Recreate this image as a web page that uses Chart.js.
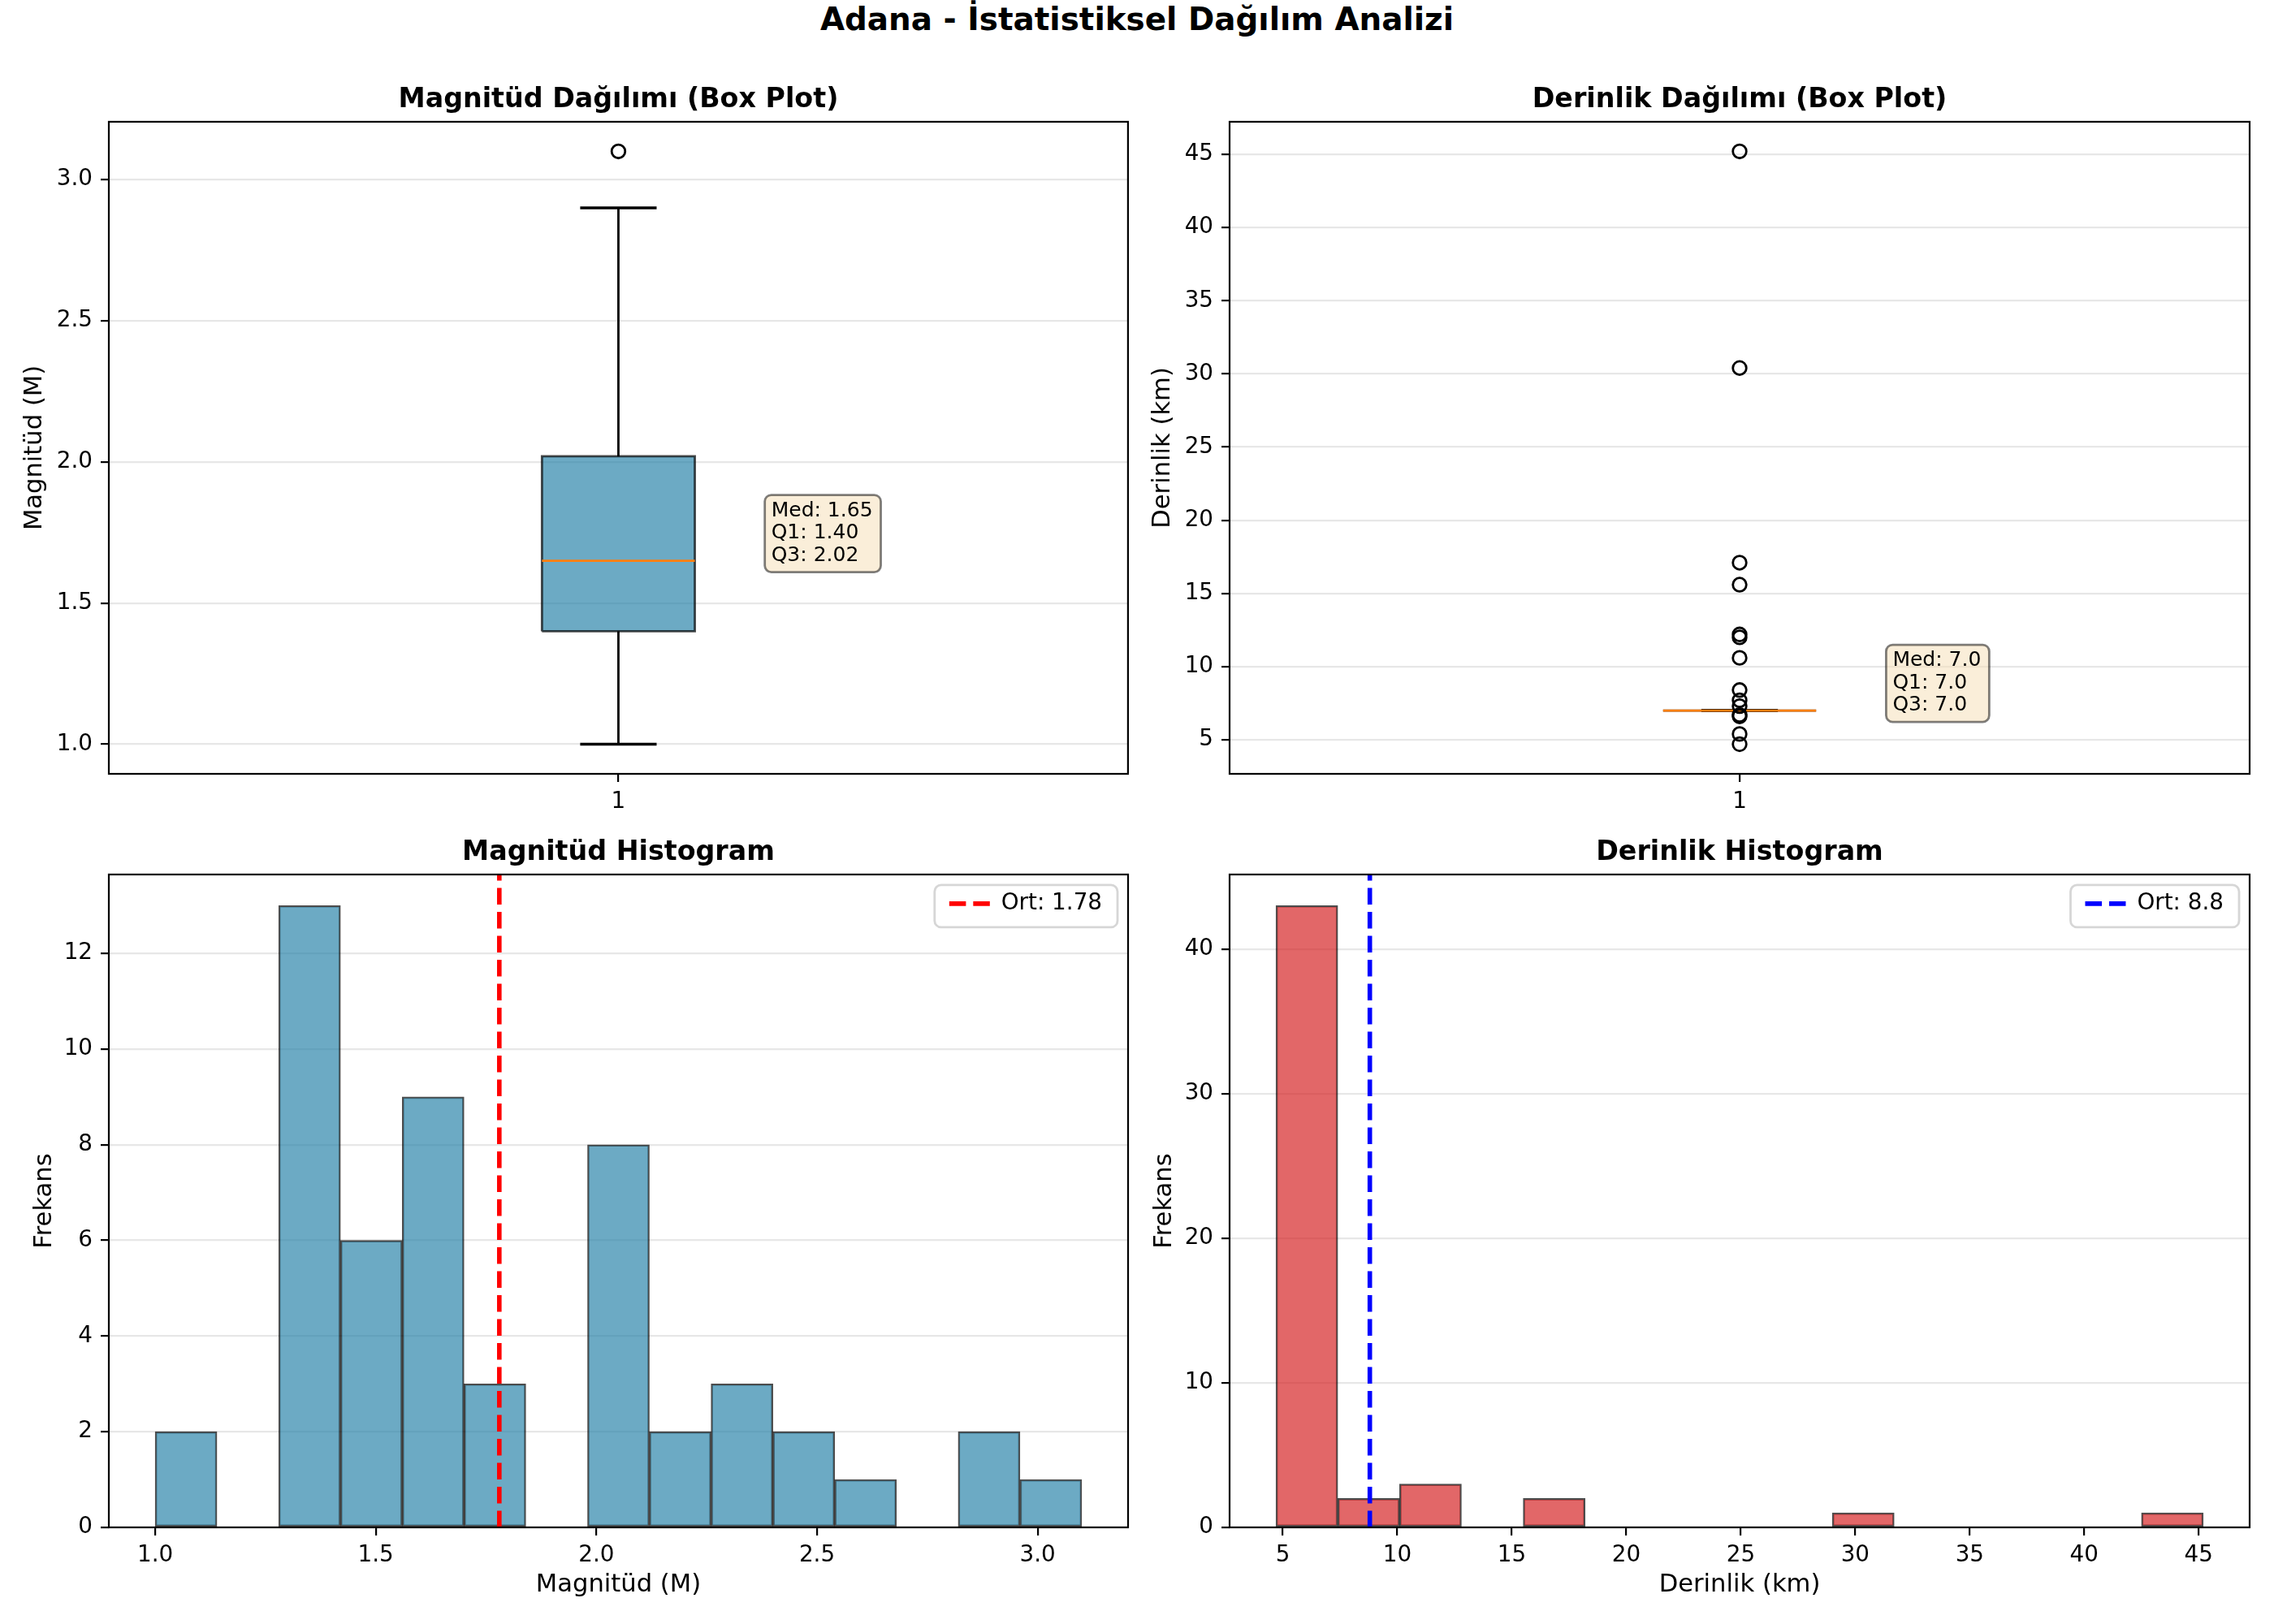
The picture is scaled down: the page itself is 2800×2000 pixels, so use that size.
<!DOCTYPE html>
<html lang="tr">
<head>
<meta charset="utf-8">
<title>Adana - İstatistiksel Dağılım Analizi</title>
<script src="https://cdn.jsdelivr.net/npm/chart.js@4.4.1/dist/chart.umd.min.js"></script>
<style>
    html, body { margin: 0; padding: 0; background: #fff; }
    #page { position: relative; width: 2800px; height: 2000px; background: #fff; }
    #suptitle {
        position: absolute; left: 0; top: 0; width: 2800px; height: 48px; line-height: 48px;
        text-align: center; font-family: 'DejaVu Sans', sans-serif; font-weight: bold; font-size: 38.9px; color: #000;
    }
    canvas { position: absolute; }
</style>
</head>
<body>
<div id="page">
    <div id="suptitle">Adana - İstatistiksel Dağılım Analizi</div>
    <canvas id="magBoxChart" width="1400" height="960" style="left:0;top:50px"></canvas>
    <canvas id="depthBoxChart" width="1400" height="960" style="left:1400px;top:50px"></canvas>
    <canvas id="magHistChart" width="1400" height="990" style="left:0;top:1010px"></canvas>
    <canvas id="depthHistChart" width="1400" height="990" style="left:1400px;top:1010px"></canvas>
</div>
<script>
// kutu grafiği: [alt bıyık, Q1, medyan, Q3, üst bıyık]
const boxPositions = [1];
const magBox = [1.00, 1.40, 1.65, 2.02, 2.90];
const magOutliers = [3.10];
const depthBox = [7.0, 7.0, 7.0, 7.0, 7.0];
const depthOutliers = [45.2, 30.4, 17.1, 15.6, 12.2, 12.0, 10.6, 8.4, 7.7, 7.3, 6.7, 6.6, 5.4, 4.7];

// histogram kutucukları (merkezler) ve frekanslar
const magBinCenters = [1.07, 1.21, 1.35, 1.49, 1.63, 1.77, 1.91, 2.05, 2.19, 2.33, 2.47, 2.61, 2.75, 2.89, 3.03];
const magCounts = [2, 0, 13, 6, 9, 3, 0, 8, 2, 3, 2, 1, 0, 2, 1];
const depthBinCenters = [6.05, 8.75, 11.45, 14.15, 16.85, 19.55, 22.25, 24.95, 27.65, 30.35, 33.05, 35.75, 38.45, 41.15, 43.85];
const depthCounts = [43, 2, 3, 0, 2, 0, 0, 0, 0, 1, 0, 0, 0, 0, 1];
const magMean = 1.78;
const depthMean = 8.8;

// eksen işaretleri
const boxTicks = [1];
const boxTickLabels = ['1'];
const magTicks = [1.0, 1.5, 2.0, 2.5, 3.0];
const magTickLabels = ['1.0', '1.5', '2.0', '2.5', '3.0'];
const depthTicks = [5, 10, 15, 20, 25, 30, 35, 40, 45];
const depthTickLabels = ['5', '10', '15', '20', '25', '30', '35', '40', '45'];
const magFreqTicks = [0, 2, 4, 6, 8, 10, 12];
const magFreqTickLabels = ['0', '2', '4', '6', '8', '10', '12'];
const depthFreqTicks = [0, 10, 20, 30, 40];
const depthFreqTickLabels = ['0', '10', '20', '30', '40'];

// eksen sınırları
const MAG_LIM = [0.895, 3.205];
const DEPTH_LIM = [2.675, 47.225];
const MAG_FREQ_MAX = 13.65;
const DEPTH_FREQ_MAX = 45.15;
const BOX_HALF = 0.075;
const CAP_HALF = 0.0375;

const FS_TICK = 27.8, FS_LABEL = 30.6, FS_TITLE = 33.3, FS_TEXT = 25;
const BLUE = 'rgba(46, 134, 171, 0.7)';
const RED = 'rgba(214, 39, 40, 0.7)';
const EDGE = 'rgba(0, 0, 0, 0.7)';
const GRID = 'rgba(176, 176, 176, 0.3)';

Chart.defaults.font.family = "'DejaVu Sans', sans-serif";
Chart.defaults.color = '#000';
Chart.defaults.animation = false;

// eksenlerin dört kenar çerçevesi
const framePlugin = {
    id: 'frame',
    afterDraw(chart) {
        const { ctx, chartArea: a } = chart;
        ctx.save();
        ctx.strokeStyle = '#000';
        ctx.lineWidth = 2.2;
        ctx.strokeRect(a.left, a.top, a.right - a.left, a.bottom - a.top);
        ctx.restore();
    }
};

// lejantı grafiğin sağ üst köşesine taşı ve çerçeve çiz
const legendBoxPlugin = {
    id: 'legendBox',
    afterLayout(chart) {
        const lg = chart.legend;
        if (!lg || !lg.options.display) return;
        const a = chart.chartArea;
        const pad = lg.options.labels.padding;
        const itemW = (lg.columnSizes && lg.columnSizes.length) ? lg.columnSizes[0].width : 190;
        const right = a.right - 13;
        const left = right - itemW - 37;
        const top = a.top + 13;
        lg._frame = { left, right, top, bottom: top + 52 };
        lg.left = left + 18 - pad;
        lg.right = lg.left + lg.width;
        lg.top = top + 9 - pad;
        lg.bottom = lg.top + lg.height;
    },
    beforeDraw(chart) {
        const lg = chart.legend;
        if (!lg || !lg._frame || !lg.options.display) return;
        const f = lg._frame;
        const ctx = chart.ctx;
        ctx.save();
        ctx.beginPath();
        ctx.roundRect(f.left, f.top, f.right - f.left, f.bottom - f.top, 8);
        ctx.fillStyle = 'rgba(255, 255, 255, 0.8)';
        ctx.fill();
        ctx.strokeStyle = 'rgba(204, 204, 204, 0.8)';
        ctx.lineWidth = 2.8;
        ctx.stroke();
        ctx.restore();
    }
};

// Med/Q1/Q3 bilgi kutusu
const statBoxPlugin = {
    id: 'statBox',
    afterDatasetsDraw(chart, args, opts) {
        if (!opts || !opts.lines) return;
        const { ctx, scales } = chart;
        const x = scales.x.getPixelForValue(opts.x);
        const y = scales.y.getPixelForValue(opts.y);
        const lh = 27.5;
        ctx.save();
        ctx.font = FS_TEXT + "px 'DejaVu Sans'";
        let w = 0;
        opts.lines.forEach(t => { w = Math.max(w, ctx.measureText(t).width); });
        const n = opts.lines.length;
        const top = y - (n - 1) * lh - 26;
        ctx.beginPath();
        ctx.roundRect(x - 8, top, w + 18, (y + 14) - top, 8);
        ctx.fillStyle = 'rgba(245, 222, 179, 0.5)';
        ctx.fill();
        ctx.strokeStyle = 'rgba(0, 0, 0, 0.5)';
        ctx.lineWidth = 2.8;
        ctx.stroke();
        ctx.fillStyle = '#000';
        ctx.textBaseline = 'alphabetic';
        ctx.textAlign = 'left';
        opts.lines.forEach((t, i) => ctx.fillText(t, x, y - (n - 1 - i) * lh));
        ctx.restore();
    }
};

function fixedTicks(values) {
    return scale => { scale.ticks = values.map(v => ({ value: v })); };
}

function yAxis(lim, ticks, labels, title, width, titlePad, z) {
    return {
        type: 'linear',
        min: lim[0],
        max: lim[1],
        z: z || 0,
        afterBuildTicks: fixedTicks(ticks),
        afterFit: s => { s.width = width; },
        ticks: { callback: (v, i) => labels[i], padding: 10, font: { size: FS_TICK } },
        grid: { color: GRID, lineWidth: 2.2, tickColor: '#000', tickWidth: 2.2, tickLength: 10 },
        border: { display: false },
        title: { display: true, text: title, font: { size: FS_LABEL }, padding: { top: titlePad, bottom: 0 } }
    };
}

function xAxis(lim, ticks, labels, title, height) {
    return {
        type: 'linear',
        min: lim[0],
        max: lim[1],
        offset: false,
        afterBuildTicks: fixedTicks(ticks),
        afterFit: s => { s.height = height; },
        ticks: { callback: (v, i) => labels[i], padding: 8, font: { size: FS_TICK }, maxRotation: 0, autoSkip: false },
        grid: { offset: false, drawOnChartArea: false, tickColor: '#000', tickWidth: 2.2, lineWidth: 2.2, tickLength: 10 },
        border: { display: false },
        title: { display: !!title, text: title || '', font: { size: FS_LABEL }, padding: { top: 0, bottom: 29.6 } }
    };
}

// kutu grafiği veri setleri
function boxDatasets(stats, outliers) {
    const [lo, q1, med, q3, hi] = stats;
    const x = boxPositions[0];
    const seg = (x0, y0, x1, y1) => [{ x: x0, y: y0 }, { x: x1, y: y1 }];
    return [
        {
            data: [{ x: x - BOX_HALF, y: q1 }, { x: x + BOX_HALF, y: q1 }, { x: x + BOX_HALF, y: q3 },
                   { x: x - BOX_HALF, y: q3 }, { x: x - BOX_HALF, y: q1 }],
            fill: 'shape', backgroundColor: BLUE, borderColor: EDGE, borderWidth: 2.8, order: 6
        },
        { data: seg(x, lo, x, q1), borderColor: '#000', borderWidth: 2.8, order: 5 },
        { data: seg(x, q3, x, hi), borderColor: '#000', borderWidth: 2.8, order: 5 },
        { data: seg(x - CAP_HALF, lo, x + CAP_HALF, lo), borderColor: '#000', borderWidth: 3.6, order: 4 },
        { data: seg(x - CAP_HALF, hi, x + CAP_HALF, hi), borderColor: '#000', borderWidth: 3.6, order: 4 },
        { data: seg(x - BOX_HALF, med, x + BOX_HALF, med), borderColor: '#ff7f0e', borderWidth: 2.8, order: 2 },
        {
            data: outliers.map(v => ({ x: x, y: v })), showLine: false,
            pointRadius: 8.3, pointBorderWidth: 2.8, pointBorderColor: '#000',
            pointBackgroundColor: 'rgba(0,0,0,0)', order: 1
        }
    ];
}

function drawBoxChart(id, stats, outliers, lim, ticks, labels, title, yTitle, yWidth, yTitlePad, rightPad, digits) {
    new Chart(document.getElementById(id), {
        type: 'line',
        data: { datasets: boxDatasets(stats, outliers) },
        options: {
            responsive: false,
            animation: false,
            layout: { padding: { left: 0, right: rightPad, top: 0, bottom: 0 } },
            elements: { point: { radius: 0, hoverRadius: 0 }, line: { tension: 0 } },
            plugins: {
                legend: { display: false },
                tooltip: { enabled: false },
                title: {
                    display: true, text: title, fullSize: false,
                    font: { size: FS_TITLE, weight: 'bold' }, padding: { top: 53, bottom: 7 }
                },
                statBox: {
                    x: 1.15, y: stats[2],
                    lines: ['Med: ' + stats[2].toFixed(digits), 'Q1: ' + stats[1].toFixed(digits), 'Q3: ' + stats[3].toFixed(digits)]
                }
            },
            scales: {
                x: xAxis([0.5, 1.5], boxTicks, boxTickLabels, '', 57),
                y: yAxis(lim, ticks, labels, yTitle, yWidth, yTitlePad)
            }
        },
        plugins: [framePlugin, statBoxPlugin]
    });
}

// lejantta kesikli çizgi görünsün diye çizgi stilini veri setinden al
function dashedLegendLabels(chart) {
    return Chart.defaults.plugins.legend.labels.generateLabels(chart).map(item => {
        const ds = chart.data.datasets[item.datasetIndex];
        item.lineDash = ds.borderDash || [];
        item.lineWidth = ds.borderWidth;
        item.strokeStyle = ds.borderColor;
        return item;
    });
}

function drawHistChart(id, centers, counts, color, mean, meanLabel, meanColor, xLim, xTicks, xLabels,
                       yMax, yTicks, yLabels, title, xTitle, yWidth, yTitlePad, rightPad) {
    new Chart(document.getElementById(id), {
        type: 'bar',
        data: {
            datasets: [
                {
                    type: 'bar', label: '',
                    data: centers.map((c, i) => ({ x: c, y: counts[i] })),
                    backgroundColor: color, borderColor: EDGE, borderWidth: 2, borderSkipped: false,
                    barPercentage: 1, categoryPercentage: 1, order: 2
                },
                {
                    type: 'line', label: meanLabel,
                    data: [{ x: mean, y: 0 }, { x: mean, y: yMax }],
                    borderColor: meanColor, backgroundColor: meanColor, borderWidth: 5.6, borderDash: [20.6, 8.9],
                    pointRadius: 0, fill: false, order: 1
                }
            ]
        },
        options: {
            responsive: false,
            animation: false,
            layout: { padding: { left: 0, right: rightPad, top: 0, bottom: 0 } },
            plugins: {
                tooltip: { enabled: false },
                title: {
                    display: true, text: title, fullSize: false,
                    font: { size: FS_TITLE, weight: 'bold' }, padding: { top: 20, bottom: 7 }
                },
                legend: {
                    display: true, position: 'chartArea', align: 'start',
                    labels: {
                        generateLabels: dashedLegendLabels,
                        filter: item => item.text !== '',
                        usePointStyle: true, pointStyle: 'line', pointStyleWidth: 50,
                        font: { size: FS_TICK }, color: '#000', padding: 10
                    }
                }
            },
            scales: {
                x: xAxis(xLim, xTicks, xLabels, xTitle, 119),
                y: yAxis([0, yMax], yTicks, yLabels, 'Frekans', yWidth, yTitlePad, 1)
            }
        },
        plugins: [framePlugin, legendBoxPlugin]
    });
}

drawBoxChart('magBoxChart', magBox, magOutliers, MAG_LIM, magTicks, magTickLabels,
    'Magnitüd Dağılımı (Box Plot)', 'Magnitüd (M)', 134, 24.6, 11, 2);
drawBoxChart('depthBoxChart', depthBox, depthOutliers, DEPTH_LIM, depthTicks, depthTickLabels,
    'Derinlik Dağılımı (Box Plot)', 'Derinlik (km)', 114, 13.6, 30, 1);

drawHistChart('magHistChart', magBinCenters, magCounts, BLUE, magMean, 'Ort: ' + magMean.toFixed(2), '#ff0000',
    MAG_LIM, magTicks, magTickLabels, MAG_FREQ_MAX, magFreqTicks, magFreqTickLabels,
    'Magnitüd Histogram', 'Magnitüd (M)', 134, 36.6, 11);
drawHistChart('depthHistChart', depthBinCenters, depthCounts, RED, depthMean, 'Ort: ' + depthMean.toFixed(1), '#0000ff',
    DEPTH_LIM, depthTicks, depthTickLabels, DEPTH_FREQ_MAX, depthFreqTicks, depthFreqTickLabels,
    'Derinlik Histogram', 'Derinlik (km)', 114, 15.6, 30);
</script>
</body>
</html>
